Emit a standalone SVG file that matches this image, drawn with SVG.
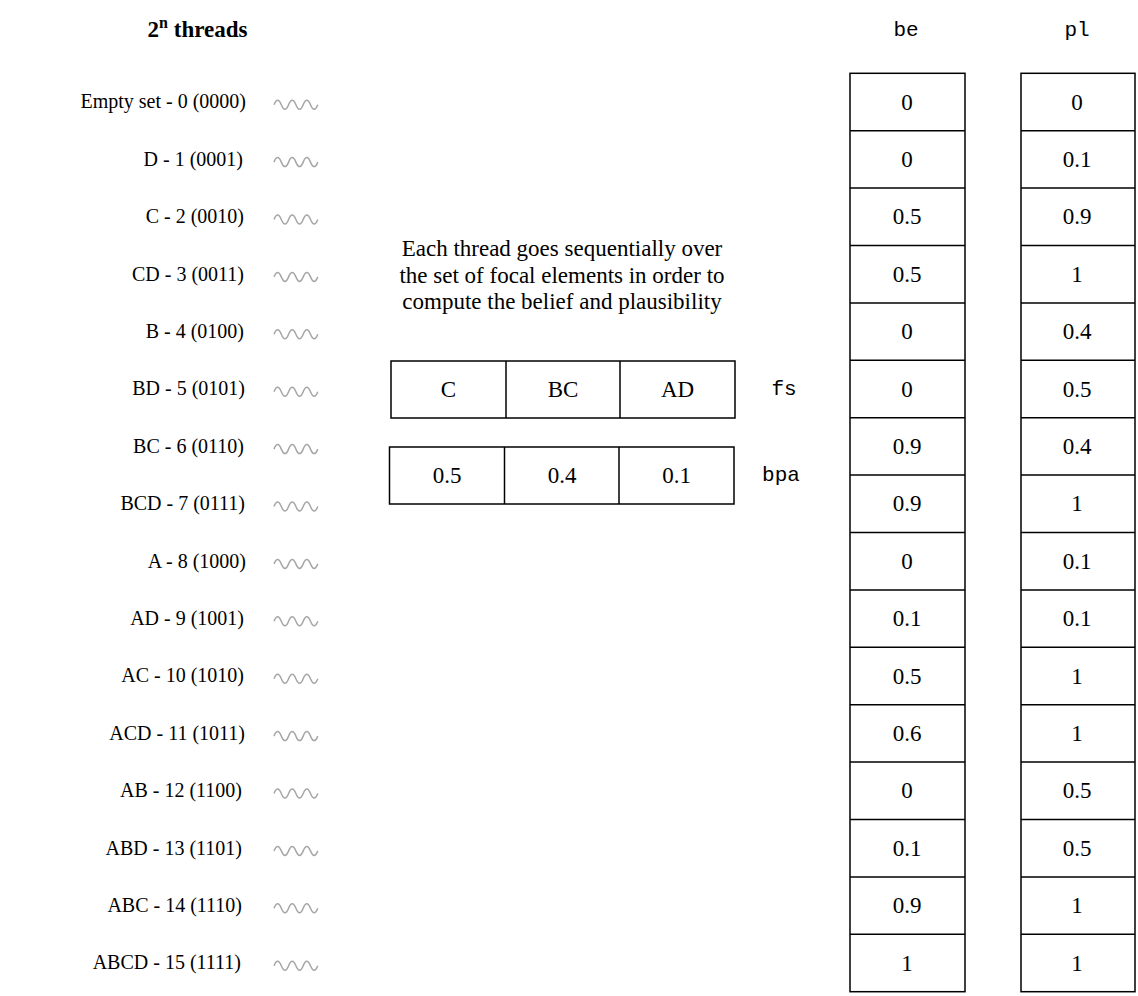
<svg xmlns="http://www.w3.org/2000/svg" width="1138" height="996" viewBox="0 0 1138 996">
<defs>
<style>
.t{font-family:"Liberation Serif","Times New Roman",serif;font-size:20px;fill:#000}
.v{font-size:23px}
.ttl{font-size:23px;font-weight:bold}
.sup{font-size:16px}
.lbl{text-anchor:end}
.c{text-anchor:middle}
.m{font-family:"Liberation Mono","Courier New",monospace;font-size:21px;fill:#000;text-anchor:middle}
.box{fill:#fff;stroke:#000;stroke-width:1.5}
.div{stroke:#000;stroke-width:1.5}
.wave{fill:none;stroke:#a6a6a6;stroke-width:1.5}
</style>
<path id="w" class="wave" d="M274,3 q3.6,-9 7.3,0 t7.3,0 t7.3,0 t7.3,0 t7.3,0 t7.3,0"/>
</defs>
<rect width="1138" height="996" fill="#fff"/>
<g id="title">
<text class="t ttl c" x="197.5" y="37">2<tspan class="sup" dy="-9">n</tspan><tspan dy="9"> threads</tspan></text>
</g>
<g id="threads">
<g id="thread0"><text class="t lbl" x="246" y="108.3">Empty set - 0 (0000)</text><use href="#w" y="101.7"/></g>
<g id="thread1"><text class="t lbl" x="243" y="165.7">D - 1 (0001)</text><use href="#w" y="159.1"/></g>
<g id="thread2"><text class="t lbl" x="244" y="223.1">C - 2 (0010)</text><use href="#w" y="216.5"/></g>
<g id="thread3"><text class="t lbl" x="244" y="280.5">CD - 3 (0011)</text><use href="#w" y="273.9"/></g>
<g id="thread4"><text class="t lbl" x="244" y="337.9">B - 4 (0100)</text><use href="#w" y="331.3"/></g>
<g id="thread5"><text class="t lbl" x="245" y="395.3">BD - 5 (0101)</text><use href="#w" y="388.7"/></g>
<g id="thread6"><text class="t lbl" x="244" y="452.7">BC - 6 (0110)</text><use href="#w" y="446.1"/></g>
<g id="thread7"><text class="t lbl" x="245" y="510.1">BCD - 7 (0111)</text><use href="#w" y="503.5"/></g>
<g id="thread8"><text class="t lbl" x="246" y="567.5">A - 8 (1000)</text><use href="#w" y="560.9"/></g>
<g id="thread9"><text class="t lbl" x="244" y="624.9">AD - 9 (1001)</text><use href="#w" y="618.3"/></g>
<g id="thread10"><text class="t lbl" x="244" y="682.3">AC - 10 (1010)</text><use href="#w" y="675.7"/></g>
<g id="thread11"><text class="t lbl" x="245" y="739.7">ACD - 11 (1011)</text><use href="#w" y="733.1"/></g>
<g id="thread12"><text class="t lbl" x="242" y="797.1">AB - 12 (1100)</text><use href="#w" y="790.5"/></g>
<g id="thread13"><text class="t lbl" x="242" y="854.5">ABD - 13 (1101)</text><use href="#w" y="847.9"/></g>
<g id="thread14"><text class="t lbl" x="242" y="911.9">ABC - 14 (1110)</text><use href="#w" y="905.3"/></g>
<g id="thread15"><text class="t lbl" x="241" y="969.3">ABCD - 15 (1111)</text><use href="#w" y="962.7"/></g>
</g>
<g id="description">
<text class="t v c" x="562" y="256">Each thread goes sequentially over</text>
<text class="t v c" x="562" y="282.5">the set of focal elements in order to</text>
<text class="t v c" x="562" y="309">compute the belief and plausibility</text>
</g>
<g id="fs">
<rect class="box" x="391" y="361" width="344" height="57"/>
<line class="div" x1="506" y1="361" x2="506" y2="418"/>
<line class="div" x1="620" y1="361" x2="620" y2="418"/>
<text class="t v c" x="448.5" y="397">C</text>
<text class="t v c" x="563" y="397">BC</text>
<text class="t v c" x="677.5" y="397">AD</text>
<text class="m" x="784" y="395">fs</text>
</g>
<g id="bpa">
<rect class="box" x="389.5" y="447" width="344.5" height="57"/>
<line class="div" x1="504.5" y1="447" x2="504.5" y2="504"/>
<line class="div" x1="619" y1="447" x2="619" y2="504"/>
<text class="t v c" x="447" y="483">0.5</text>
<text class="t v c" x="562" y="483">0.4</text>
<text class="t v c" x="676.5" y="483">0.1</text>
<text class="m" x="781" y="481">bpa</text>
</g>
<g id="be">
<text class="m" x="906" y="36">be</text>
<rect class="box" x="850" y="73.3" width="115" height="918.4"/>
<g class="div">
<line x1="850" y1="130.7" x2="965" y2="130.7"/><line x1="850" y1="188.1" x2="965" y2="188.1"/><line x1="850" y1="245.5" x2="965" y2="245.5"/><line x1="850" y1="302.9" x2="965" y2="302.9"/><line x1="850" y1="360.3" x2="965" y2="360.3"/><line x1="850" y1="417.7" x2="965" y2="417.7"/><line x1="850" y1="475.1" x2="965" y2="475.1"/><line x1="850" y1="532.5" x2="965" y2="532.5"/><line x1="850" y1="589.9" x2="965" y2="589.9"/><line x1="850" y1="647.3" x2="965" y2="647.3"/><line x1="850" y1="704.7" x2="965" y2="704.7"/><line x1="850" y1="762.1" x2="965" y2="762.1"/><line x1="850" y1="819.5" x2="965" y2="819.5"/><line x1="850" y1="876.9" x2="965" y2="876.9"/><line x1="850" y1="934.3" x2="965" y2="934.3"/>
</g>
<g class="t v c">
<text x="907" y="109.5">0</text>
<text x="907" y="166.9">0</text>
<text x="907" y="224.3">0.5</text>
<text x="907" y="281.7">0.5</text>
<text x="907" y="339.1">0</text>
<text x="907" y="396.5">0</text>
<text x="907" y="453.9">0.9</text>
<text x="907" y="511.3">0.9</text>
<text x="907" y="568.7">0</text>
<text x="907" y="626.1">0.1</text>
<text x="907" y="683.5">0.5</text>
<text x="907" y="740.9">0.6</text>
<text x="907" y="798.3">0</text>
<text x="907" y="855.7">0.1</text>
<text x="907" y="913.1">0.9</text>
<text x="907" y="970.5">1</text>
</g>
</g>
<g id="pl">
<text class="m" x="1077" y="36">pl</text>
<rect class="box" x="1021" y="73.3" width="114" height="918.4"/>
<g class="div">
<line x1="1021" y1="130.7" x2="1135" y2="130.7"/><line x1="1021" y1="188.1" x2="1135" y2="188.1"/><line x1="1021" y1="245.5" x2="1135" y2="245.5"/><line x1="1021" y1="302.9" x2="1135" y2="302.9"/><line x1="1021" y1="360.3" x2="1135" y2="360.3"/><line x1="1021" y1="417.7" x2="1135" y2="417.7"/><line x1="1021" y1="475.1" x2="1135" y2="475.1"/><line x1="1021" y1="532.5" x2="1135" y2="532.5"/><line x1="1021" y1="589.9" x2="1135" y2="589.9"/><line x1="1021" y1="647.3" x2="1135" y2="647.3"/><line x1="1021" y1="704.7" x2="1135" y2="704.7"/><line x1="1021" y1="762.1" x2="1135" y2="762.1"/><line x1="1021" y1="819.5" x2="1135" y2="819.5"/><line x1="1021" y1="876.9" x2="1135" y2="876.9"/><line x1="1021" y1="934.3" x2="1135" y2="934.3"/>
</g>
<g class="t v c">
<text x="1077" y="109.5">0</text>
<text x="1077" y="166.9">0.1</text>
<text x="1077" y="224.3">0.9</text>
<text x="1077" y="281.7">1</text>
<text x="1077" y="339.1">0.4</text>
<text x="1077" y="396.5">0.5</text>
<text x="1077" y="453.9">0.4</text>
<text x="1077" y="511.3">1</text>
<text x="1077" y="568.7">0.1</text>
<text x="1077" y="626.1">0.1</text>
<text x="1077" y="683.5">1</text>
<text x="1077" y="740.9">1</text>
<text x="1077" y="798.3">0.5</text>
<text x="1077" y="855.7">0.5</text>
<text x="1077" y="913.1">1</text>
<text x="1077" y="970.5">1</text>
</g>
</g>
<g id="connectors"></g>
</svg>
